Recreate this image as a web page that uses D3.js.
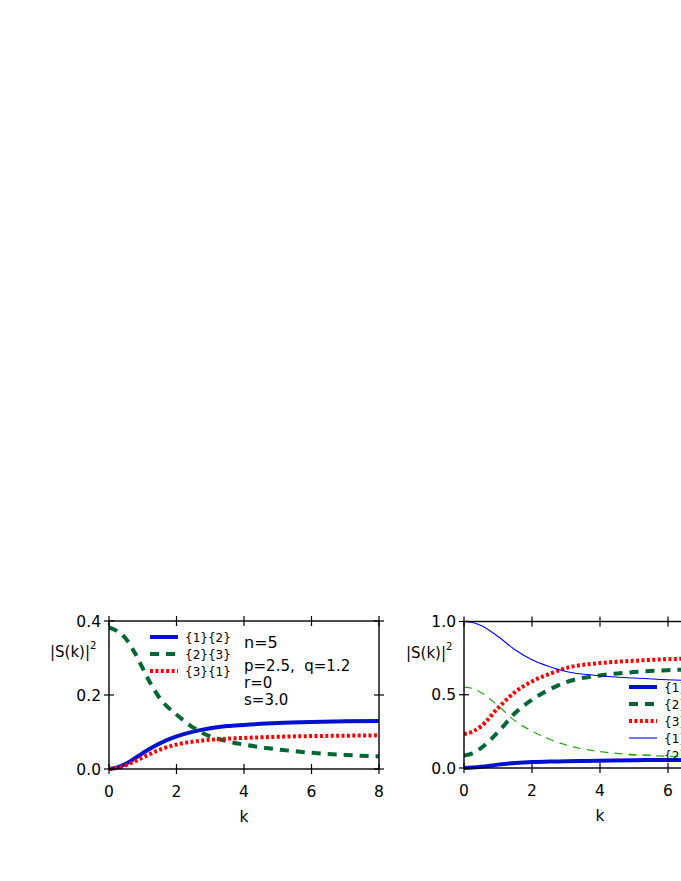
<!DOCTYPE html>
<html>
<head>
<meta charset="utf-8">
<script src="https://cdn.jsdelivr.net/npm/d3@7"></script>
<style>
  body { margin: 0; background: #fff; overflow: hidden; }
  svg { display: block; font-family: "DejaVu Sans", sans-serif; }
</style>
</head>
<body>
<div id="chart"></div>
<script>
// ---- data ----
const kLeft = [0, 0.25, 0.5, 0.75, 1, 1.25, 1.5, 2, 2.5, 3, 3.5, 4, 5, 6, 7, 8];
const left12 = [0, 0.004, 0.014, 0.028, 0.043, 0.057, 0.069, 0.088, 0.101, 0.110, 0.116, 0.119, 0.124, 0.127, 0.129, 0.130];
const left23 = [0.383, 0.372, 0.352, 0.316, 0.272, 0.228, 0.192, 0.147, 0.112, 0.088, 0.075, 0.066, 0.053, 0.044, 0.038, 0.034];
const left31 = [0, 0.003, 0.010, 0.020, 0.031, 0.042, 0.052, 0.066, 0.074, 0.079, 0.082, 0.084, 0.087, 0.089, 0.090, 0.091];

const kRight = [0, 0.25, 0.5, 1, 1.5, 2, 2.5, 3, 4, 5, 6, 7, 8];
const right12 = [0, 0.003, 0.008, 0.023, 0.034, 0.041, 0.044, 0.046, 0.050, 0.053, 0.055, 0.056, 0.057];
const right23 = [0.086, 0.100, 0.136, 0.245, 0.375, 0.466, 0.534, 0.586, 0.632, 0.655, 0.668, 0.675, 0.680];
const right31 = [0.232, 0.248, 0.284, 0.409, 0.518, 0.591, 0.641, 0.682, 0.716, 0.732, 0.743, 0.750, 0.755];
const right1 = [1.0, 0.993, 0.973, 0.898, 0.807, 0.739, 0.693, 0.659, 0.630, 0.614, 0.602, 0.596, 0.592];
const right2 = [0.552, 0.543, 0.515, 0.425, 0.322, 0.252, 0.198, 0.157, 0.112, 0.091, 0.080, 0.074, 0.070];

const leftLabels = ["{1}{2}", "{2}{3}", "{3}{1}"];
const rightLabels = ["{1}{2}", "{2}{3}", "{3}{1}", "{1}{2}{3}", "{2}{3}{1}"];
const paramLines = ["n=5", "p=2.5,  q=1.2", "r=0", "s=3.0"];
const kTicks = [0, 2, 4, 6, 8];
const leftYTicks = [0, 0.2, 0.4];
const rightYTicks = [0, 0.5, 1.0];

// line styles
const styles = {
  thickBlue:  { color: "#0010d0", width: 4,   dash: null },
  thickGreen: { color: "#006633", width: 4,   dash: "9,7" },
  dotRed:     { color: "#ff0000", width: 4,   dash: "3,2.4" },
  thinBlue:   { color: "#0000ff", width: 1.1, dash: null },
  thinGreen:  { color: "#22aa11", width: 1.2, dash: "8,6" }
};

const svg = d3.select("#chart").append("svg")
  .attr("width", 681)
  .attr("height", 881);

function drawPanel(p) {
  const x = d3.scaleLinear().domain([0, 8]).range([p.x0, p.x1]);
  const y = d3.scaleLinear().domain([0, p.yMax]).range([p.y0, p.y1]);
  const g = svg.append("g");

  const clipId = "clip" + p.id;
  g.append("clipPath").attr("id", clipId)
    .append("rect")
    .attr("x", p.x0).attr("y", p.y1 - 3)
    .attr("width", p.x1 - p.x0).attr("height", p.y0 - p.y1 + 6);

  const line = d3.line()
    .x(d => x(d[0]))
    .y(d => y(d[1]))
    .curve(d3.curveMonotoneX);

  p.series.forEach(s => {
    g.append("path")
      .datum(p.k.map((k, i) => [k, s.values[i]]))
      .attr("clip-path", `url(#${clipId})`)
      .attr("fill", "none")
      .attr("stroke", s.style.color)
      .attr("stroke-width", s.style.width)
      .attr("stroke-dasharray", s.style.dash)
      .attr("d", line);
  });

  // frame
  g.append("rect")
    .attr("x", p.x0).attr("y", p.y1)
    .attr("width", p.x1 - p.x0).attr("height", p.y0 - p.y1)
    .attr("fill", "none")
    .attr("stroke", "#000")
    .attr("stroke-width", 1.4);

  // ticks crossing the frame on all four sides
  kTicks.forEach(t => {
    [p.y0, p.y1].forEach(yy => {
      g.append("line")
        .attr("x1", x(t)).attr("x2", x(t))
        .attr("y1", yy - 5).attr("y2", yy + 5)
        .attr("stroke", "#000").attr("stroke-width", 1.2);
    });
  });
  p.yTicks.forEach(t => {
    [p.x0, p.x1].forEach(xx => {
      g.append("line")
        .attr("x1", xx - 5).attr("x2", xx + 5)
        .attr("y1", y(t)).attr("y2", y(t))
        .attr("stroke", "#000").attr("stroke-width", 1.2);
    });
  });

  // tick labels
  g.selectAll(".xt").data(kTicks).enter().append("text")
    .attr("x", d => x(d))
    .attr("y", p.y0 + 28)
    .attr("text-anchor", "middle")
    .style("font-size", "15.5px")
    .text(d => d);

  g.selectAll(".yt").data(p.yTicks).enter().append("text")
    .attr("x", p.x0 - 8)
    .attr("y", d => y(d) + 5.5)
    .attr("text-anchor", "end")
    .style("font-size", "15.5px")
    .text(d => d.toFixed(1));

  // axis titles
  g.append("text")
    .attr("x", (p.x0 + p.x1) / 2)
    .attr("y", p.y0 + 53)
    .attr("text-anchor", "middle")
    .style("font-size", "15.5px")
    .text("k");

  const yl = g.append("text")
    .attr("x", p.labelX)
    .attr("y", p.y1 + 36)
    .style("font-size", "15px");
  yl.append("tspan").text("|S(k)|");
  yl.append("tspan").attr("dy", -8).style("font-size", "10px").text("2");

  // legend
  const lg = g.append("g");
  p.series.forEach((s, i) => {
    const yy = p.legY + i * p.legStep;
    lg.append("line")
      .attr("x1", p.legX).attr("x2", p.legX + 28)
      .attr("y1", yy).attr("y2", yy)
      .attr("stroke", s.style.color)
      .attr("stroke-width", s.style.width)
      .attr("stroke-dasharray", s.style.dash);
    lg.append("text")
      .attr("x", p.legX + 35)
      .attr("y", yy + 4.5)
      .style("font-size", "12px")
      .text(s.label);
  });
  return { x, y, g };
}

const leftPanel = drawPanel({
  id: "L", x0: 109, x1: 379, y0: 769, y1: 621, yMax: 0.4,
  yTicks: leftYTicks, k: kLeft, labelX: 50,
  legX: 150, legY: 637, legStep: 17,
  series: [
    { values: left12, style: styles.thickBlue, label: leftLabels[0] },
    { values: left23, style: styles.thickGreen, label: leftLabels[1] },
    { values: left31, style: styles.dotRed, label: leftLabels[2] }
  ]
});

drawPanel({
  id: "R", x0: 464, x1: 736, y0: 768, y1: 621.5, yMax: 1.0,
  yTicks: rightYTicks, k: kRight, labelX: 406,
  legX: 629, legY: 687, legStep: 17,
  series: [
    { values: right12, style: styles.thickBlue, label: rightLabels[0] },
    { values: right23, style: styles.thickGreen, label: rightLabels[1] },
    { values: right31, style: styles.dotRed, label: rightLabels[2] },
    { values: right1, style: styles.thinBlue, label: rightLabels[3] },
    { values: right2, style: styles.thinGreen, label: rightLabels[4] }
  ]
});

// parameter text in the left panel
const paramY = [648, 671, 688, 705];
const paramSize = [16, 15, 15, 15];
leftPanel.g.selectAll(".param").data(paramLines).enter().append("text")
  .attr("x", 244)
  .attr("y", (d, i) => paramY[i])
  .style("font-size", (d, i) => paramSize[i] + "px")
  .style("white-space", "pre")
  .text(d => d);
</script>
</body>
</html>
